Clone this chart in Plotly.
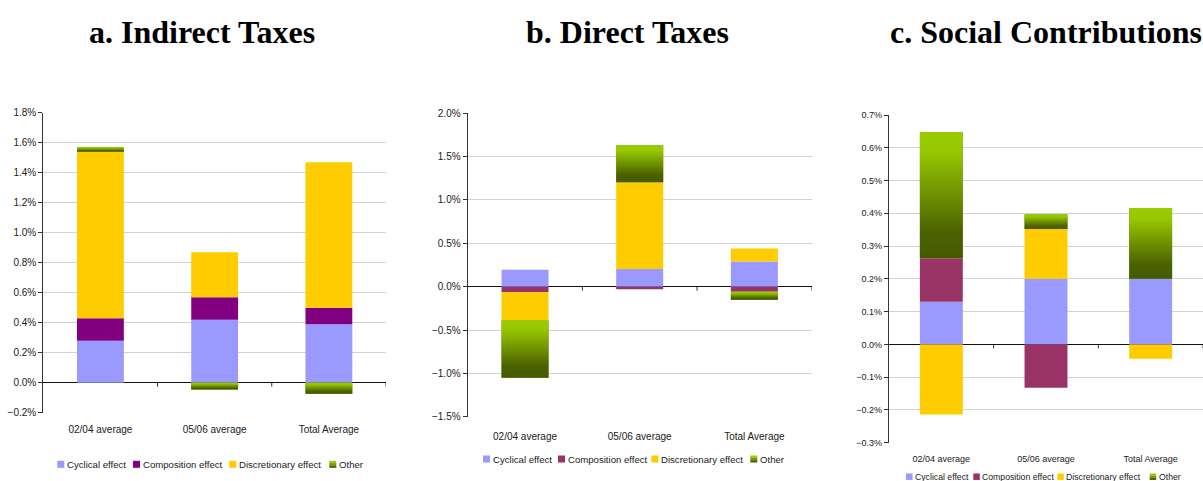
import plotly.graph_objects as go

# ---- data (percent of GDP) ----
categories = ["02/04 average", "05/06 average", "Total Average"]
series_names = ["Cyclical effect", "Composition effect", "Discretionary effect", "Other"]

indirect_cyclical = [0.28, 0.42, 0.39]
indirect_composition = [0.15, 0.15, 0.11]
indirect_discretionary = [1.11, 0.30, 0.97]
indirect_other = [0.03, -0.045, -0.073]

direct_cyclical = [0.195, 0.205, 0.29]
direct_composition = [-0.065, -0.03, -0.06]
direct_discretionary = [-0.325, 1.0, 0.15]
direct_other = [-0.66, 0.425, -0.09]

social_cyclical = [0.13, 0.20, 0.20]
social_composition = [0.133, -0.132, 0.0]
social_discretionary = [-0.214, 0.152, -0.044]
social_other = [0.384, 0.045, 0.216]

panel_titles = ["a. Indirect Taxes", "b. Direct Taxes", "c. Social Contributions"]
y_ranges = [(-0.2, 1.8, 0.2), (-1.5, 2.0, 0.5), (-0.3, 0.7, 0.1)]

# ---- styling ----
W, H = 1203, 481
BAR_W = 0.41
C_CYC = "#9999FF"
C_COMP = ["#800080", "#993366", "#993366"]
C_DISC = "#FFCC00"
C_OTHER = "#6f9400"
GREEN_SCALE = [[0, "#455a00"], [0.2, "#4b6100"], [0.85, "#96c800"], [1, "#99CC00"]]
FONT = "Liberation Sans, Arial, sans-serif"

panels = [
    dict(vals=[indirect_cyclical, indirect_composition, indirect_discretionary, indirect_other],
         xpx=(43.3, 386.0), ypx=(112.7, 412.7), fs=10, leg_fs=9.6, standoff=9, title_x=202,
         leg_sw=[57.3, 133.0, 229.3, 329.3], leg_y=464.3),
    dict(vals=[direct_cyclical, direct_composition, direct_discretionary, direct_other],
         xpx=(467.7, 811.7), ypx=(113.3, 416.7), fs=10, leg_fs=9.6, standoff=12, title_x=627,
         leg_sw=[483.0, 558.0, 651.3, 750.3], leg_y=459.0),
    dict(vals=[social_cyclical, social_composition, social_discretionary, social_other],
         xpx=(889.0, 1203.0), ypx=(115.0, 442.7), fs=9, leg_fs=8.7, standoff=9, title_x=1046,
         leg_sw=[906.0, 973.3, 1057.3, 1149.7], leg_y=476.7),
]

fig = go.Figure()
shapes = []
annotations = []
layout_axes = {}

for p, panel in enumerate(panels):
    xa = "x" if p == 0 else f"x{p + 1}"
    ya = "y" if p == 0 else f"y{p + 1}"
    xpos = list(range(len(categories)))
    colors = [C_CYC, C_COMP[p], C_DISC, C_OTHER]

    for name, vals, col in zip(series_names, panel["vals"], colors):
        fig.add_trace(go.Bar(
            x=xpos, y=vals, name=name, width=BAR_W, marker=dict(color=col, line=dict(width=0)),
            xaxis=xa, yaxis=ya, showlegend=False,
            hovertemplate=name + ": %{y:.2f}%<extra></extra>",
        ))

    # gradient fill for the "Other" segments, placed on top of the stacked pieces
    pos_base = [0.0] * len(categories)
    neg_base = [0.0] * len(categories)
    for vals in panel["vals"][:3]:
        for i, v in enumerate(vals):
            if v >= 0:
                pos_base[i] += v
            else:
                neg_base[i] += v
    for i, v in enumerate(panel["vals"][3]):
        base = pos_base[i] if v >= 0 else neg_base[i]
        lo, hi = sorted([base, base + v])
        x0, x1 = i - BAR_W / 2, i + BAR_W / 2
        fig.add_trace(go.Scatter(
            x=[x0, x1, x1, x0, x0], y=[lo, lo, hi, hi, lo], mode="lines",
            line=dict(width=0), fill="toself",
            fillgradient=dict(type="vertical", colorscale=GREEN_SCALE),
            xaxis=xa, yaxis=ya, showlegend=False, hoverinfo="skip",
        ))

    ymin, ymax, dt = y_ranges[p]
    x0px, x1px = panel["xpx"]
    ytop, ybot = panel["ypx"]
    tick_font = dict(family=FONT, size=panel["fs"], color="#1a1a1a")
    layout_axes["xaxis" if p == 0 else f"xaxis{p + 1}"] = dict(
        domain=[x0px / W, x1px / W], anchor=ya, type="linear", range=[-0.5, 2.5],
        tickmode="array", tickvals=xpos, ticktext=categories, ticks="",
        ticklabelstandoff=panel["standoff"], showgrid=False, zeroline=False,
        showline=False, tickfont=tick_font, fixedrange=True, automargin=False,
    )
    layout_axes["yaxis" if p == 0 else f"yaxis{p + 1}"] = dict(
        domain=[1 - ybot / H, 1 - ytop / H], anchor=xa, range=[ymin, ymax],
        tick0=0, dtick=dt, tickformat=".1f", ticksuffix="%",
        showgrid=True, gridcolor="#d2d2d2", gridwidth=1.3,
        zeroline=True, zerolinecolor="#111111", zerolinewidth=1.2,
        showline=True, linecolor="#333333", linewidth=1.2,
        ticks="outside", ticklen=4, tickcolor="#333333", tickwidth=1,
        tickfont=tick_font, fixedrange=True, automargin=False,
    )

    # category boundary ticks on the zero line
    for b in [0.5, 1.5, 2.5]:
        shapes.append(dict(type="line", xref=xa, yref=ya, x0=b, x1=b,
                           ysizemode="pixel", yanchor=0, y0=0, y1=-4,
                           line=dict(color="#333333", width=1)))

    # panel title
    annotations.append(dict(text=f"<b>{panel_titles[p]}</b>", xref="paper", yref="paper",
                            x=panel["title_x"] / W, y=1 - 32 / H, xanchor="center", yanchor="middle",
                            showarrow=False,
                            font=dict(family="Liberation Serif, Times New Roman, serif",
                                      size=32, color="#000000")))

    # legend row
    sw = 7 if p < 2 else 6.5
    ly = panel["leg_y"]
    for name, col, sx in zip(series_names, colors, panel["leg_sw"]):
        if name == "Other":
            stripes = ["#99CC00", "#739900", "#4b6100"]
            for k, sc in enumerate(stripes):
                shapes.append(dict(type="rect", xref="paper", yref="paper",
                                   x0=sx / W, x1=(sx + sw) / W,
                                   y0=1 - (ly - sw / 2 + sw * (k + 1) / 3) / H,
                                   y1=1 - (ly - sw / 2 + sw * k / 3) / H,
                                   line=dict(width=0), fillcolor=sc))
        else:
            shapes.append(dict(type="rect", xref="paper", yref="paper",
                               x0=sx / W, x1=(sx + sw) / W,
                               y0=1 - (ly + sw / 2) / H, y1=1 - (ly - sw / 2) / H,
                               line=dict(width=0), fillcolor=col))
        annotations.append(dict(text=name, xref="paper", yref="paper",
                                x=(sx + sw + 0.5) / W, y=1 - ly / H,
                                xanchor="left", yanchor="middle", showarrow=False,
                                font=dict(family=FONT, size=panel["leg_fs"], color="#1a1a1a")))

fig.update_layout(
    width=W, height=H, autosize=False,
    margin=dict(l=0, r=0, t=0, b=0, pad=0, autoexpand=False),
    paper_bgcolor="white", plot_bgcolor="white",
    barmode="relative", showlegend=False,
    shapes=shapes, annotations=annotations, **layout_axes,
)

fig.write_html("out.html")
